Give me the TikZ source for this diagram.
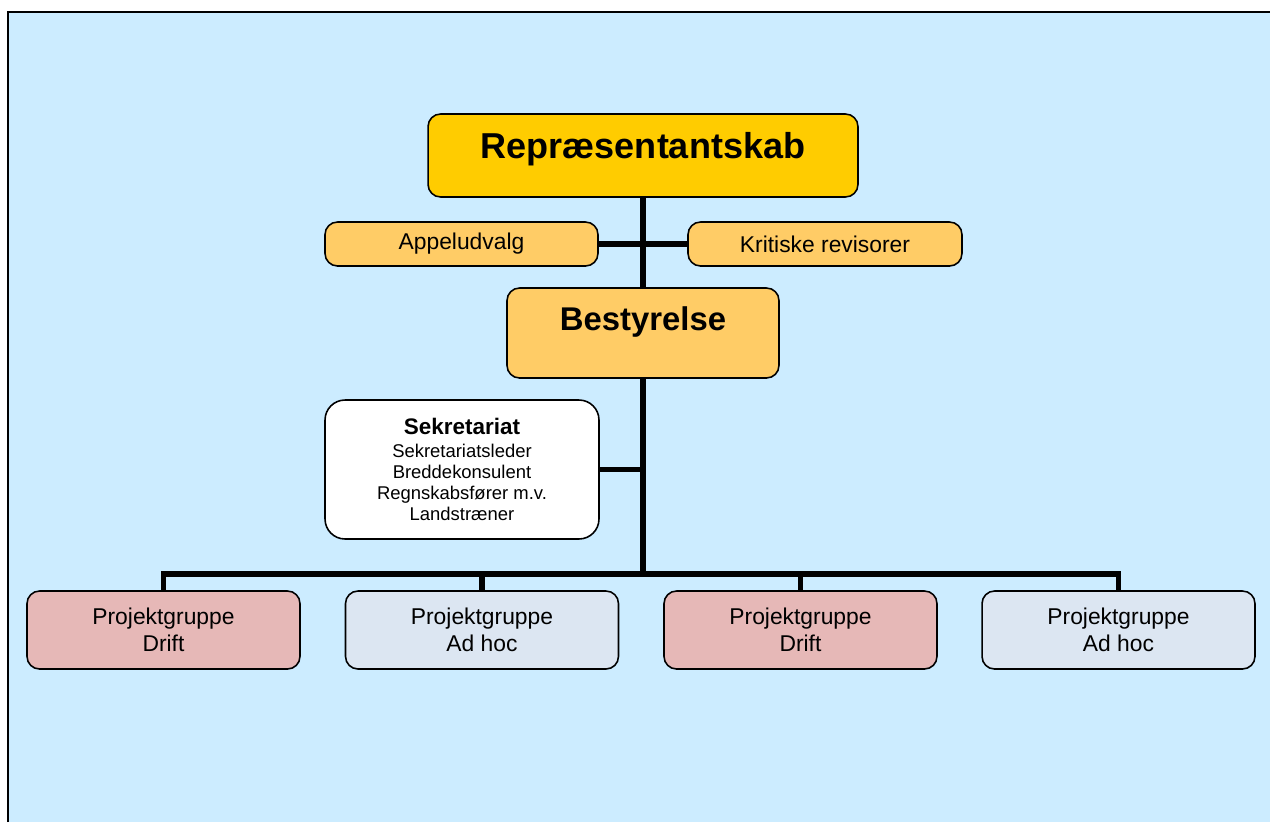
\documentclass[tikz,border=0pt]{standalone}
\usepackage{fontspec}
\setmainfont{Liberation Sans}
\usepackage{xcolor}
\definecolor{bgblue}{HTML}{CCECFF}
\definecolor{repgold}{HTML}{FFCC00}
\definecolor{boardgold}{HTML}{FFCC66}
\definecolor{driftred}{HTML}{E6B8B7}
\definecolor{adhocblue}{HTML}{DCE6F2}
\tikzset{
box/.style={draw=black,line width=0.9pt,rounded corners=0.25cm,inner sep=0pt,align=center},
txt/.style={font=\fontsize{13}{15.4}\selectfont},
link/.style={line width=3pt}
}

\begin{document}
\begin{tikzpicture}[x=0.02cm,y=-0.02cm]
\useasboundingbox (0,0) rectangle (1270,822);
\fill[white] (0,0) rectangle (1270,822);
\fill[bgblue] (8,12) rectangle (1270,822);
\draw[line width=1.7pt] (8,822) -- (8,12) -- (1270,12);

\node[box,fill=repgold,minimum width=8.6cm,text height=0.88cm,text depth=0.78cm,
  font=\fontsize{20.5}{24}\selectfont\bfseries,anchor=base] (rep) at (643,158) {Repræsentantskab};
\node[box,txt,fill=boardgold,minimum width=5.46cm,minimum height=0.88cm] (appel) at (461.5,244) {Appeludvalg};
\node[box,txt,fill=boardgold,minimum width=5.48cm,minimum height=0.88cm] (krit) at (825,244) {Kritiske revisorer};
\node[box,fill=boardgold,minimum width=5.44cm,text height=0.84cm,text depth=0.96cm,
  font=\fontsize{18.7}{22}\selectfont\bfseries,anchor=base] (best) at (643,330) {Bestyrelse};
\node[box,fill=white,rounded corners=0.4cm,minimum width=5.48cm,minimum height=2.78cm,
  font=\fontsize{10.5}{12}\selectfont] (sekr) at (462,469.5)
  {{\fontsize{12.8}{14}\selectfont\bfseries Sekretariat}\\[1pt]Sekretariatsleder\\Breddekonsulent\\Regnskabsfører m.v.\\Landstræner};

\foreach \x/\c/\t [count=\i] in {163.5/driftred/Drift,482/adhocblue/Ad hoc,800.5/driftred/Drift,1118.5/adhocblue/Ad hoc} {
\node[box,txt,fill=\c,minimum width=5.46cm,minimum height=1.56cm] (proj\i) at (\x,630) {Projektgruppe\\\t};
}

\coordinate (bar) at (643,574);
\draw[link] (rep) -- (best);
\draw[link] (appel) -- (krit);
\draw[link] (best) -- (bar);
\draw[link] (sekr) -- (sekr -| bar);
\draw[link] (proj1) |- (bar) -| (proj4);
\foreach \i in {2,3} {
\draw[link] (proj\i) -- (proj\i |- bar);
}
\end{tikzpicture}
\end{document}
